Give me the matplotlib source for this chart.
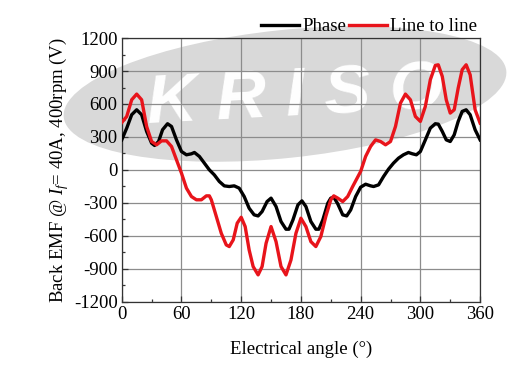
import numpy as np
import matplotlib
matplotlib.use('Agg')
import matplotlib.pyplot as plt
from matplotlib.patches import Ellipse

plt.rcParams['font.family'] = 'Liberation Serif'
plt.rcParams['mathtext.fontset'] = 'custom'
plt.rcParams['mathtext.rm'] = 'Liberation Serif'
plt.rcParams['mathtext.it'] = 'Liberation Serif:italic'
plt.rcParams['axes.unicode_minus'] = False

# Phase back EMF
phase_deg = [0, 5, 10, 15, 20, 25, 30, 33, 37, 41, 46, 50, 55, 60, 65, 70, 73, 78, 83, 88,
             93, 98, 103, 108, 113, 118, 123, 128, 133, 137, 141, 146, 150, 155, 160, 165,
             168, 172, 177, 181, 185, 190, 195, 198, 202, 207, 210, 213, 217, 222, 226, 230,
             235, 240, 245, 250, 253, 258, 263, 268, 273, 278, 283, 288, 292, 296, 300, 305,
             310, 315, 318, 322, 326, 330, 334, 338, 342, 346, 350, 355, 360]
phase_v = [273, 380, 502, 547, 502, 350, 243, 222, 258, 365, 420, 395, 273, 167, 137, 146, 158, 122, 61, 0,
           -46, -106, -146, -152, -146, -167, -243, -350, -410, -420, -380, -289, -258, -334, -471, -541,
           -541, -456, -319, -283, -334, -471, -541, -541, -456, -304, -258, -249, -310, -410, -420, -365,
           -243, -158, -131, -146, -152, -137, -61, 6, 61, 106, 137, 158, 146, 137, 167, 273,
           380, 420, 416, 350, 273, 258, 319, 441, 532, 547, 502, 365, 273]

# Line to line back EMF
line_deg = [0, 5, 10, 15, 20, 25, 30, 35, 40, 45, 50, 55, 60, 65, 70, 75, 80, 85, 88, 90,
            95, 100, 105, 108, 112, 116, 120, 124, 128, 132, 137, 141, 145, 150, 155, 160, 165,
            170, 175, 180, 185, 190, 195, 200, 205, 210, 213, 217, 222, 227, 232, 240, 245,
            250, 255, 260, 265, 270, 275, 280, 285, 290, 295, 300, 305, 310, 315, 318, 322,
            326, 330, 334, 338, 342, 346, 350, 355, 360]
line_v = [431, 486, 638, 690, 638, 395, 258, 228, 264, 264, 213, 91, -30, -167, -243, -273, -273, -237, -237, -273,
          -425, -578, -684, -699, -638, -486, -432, -517, -730, -881, -957, -881, -669, -517, -654, -881, -957,
          -821, -578, -441, -517, -654, -699, -608, -425, -273, -237, -258, -289, -243, -152, -15, 122,
          213, 273, 258, 228, 258, 395, 608, 690, 638, 486, 441, 578, 821, 951, 957, 851,
          638, 517, 547, 745, 912, 957, 866, 547, 426]

fs = 13.5

fig = plt.figure(figsize=(5.27, 3.70), dpi=100)

ax = fig.add_axes([0.231, 0.185, 0.68, 0.712])
ax.set_facecolor('none')

# watermark behind the plot (placed in inches on the figure)
logo = Ellipse((2.85, 2.76), 4.45, 1.28, angle=6, transform=fig.dpi_scale_trans,
               facecolor='#d9d9d9', edgecolor='none', zorder=0.2, clip_on=False)
ax.add_artist(logo)
ax.text(2.95, 2.72, 'K R I S O', transform=fig.dpi_scale_trans, fontsize=50, color='white',
        fontweight='bold', style='italic', family='Liberation Sans', ha='center', va='center',
        rotation=3, zorder=0.3, clip_on=False)

ax.plot(phase_deg, phase_v, color='black', lw=2.4, label='Phase', zorder=3)
ax.plot(line_deg, line_v, color='#e8141b', lw=2.4, label='Line to line', zorder=4)

ax.set_xlim(0, 360)
ax.set_ylim(-1200, 1200)
ax.set_xticks(np.arange(0, 361, 60))
ax.set_xticks(np.arange(30, 361, 60), minor=True)
ax.set_yticks(np.arange(-1200, 1201, 300))
ax.set_yticks(np.arange(-1050, 1200, 300), minor=True)
ax.grid(True, which='major', color='#8c8c8c', lw=0.9)
ax.tick_params(direction='in', labelsize=fs, length=4, width=0.9, colors='#333333',
               labelcolor='black', pad=3)
ax.tick_params(which='minor', direction='in', length=2.5, width=0.9, colors='#333333')
for s in ax.spines.values():
    s.set_color('#333333')
    s.set_linewidth(0.9)

ax.set_xlabel('Electrical angle (°)', fontsize=fs, labelpad=13)
ax.set_ylabel('Back EMF @ $I_f$= 40A, 400rpm (V)', fontsize=fs, labelpad=2)

ax.legend(loc='lower right', bbox_to_anchor=(1.0, 1.0), ncol=2, frameon=False,
          fontsize=fs, handlelength=2.0, handletextpad=0.2, columnspacing=0.15,
          borderaxespad=0.05, borderpad=0.1)

fig.savefig('out.png', dpi=100)
